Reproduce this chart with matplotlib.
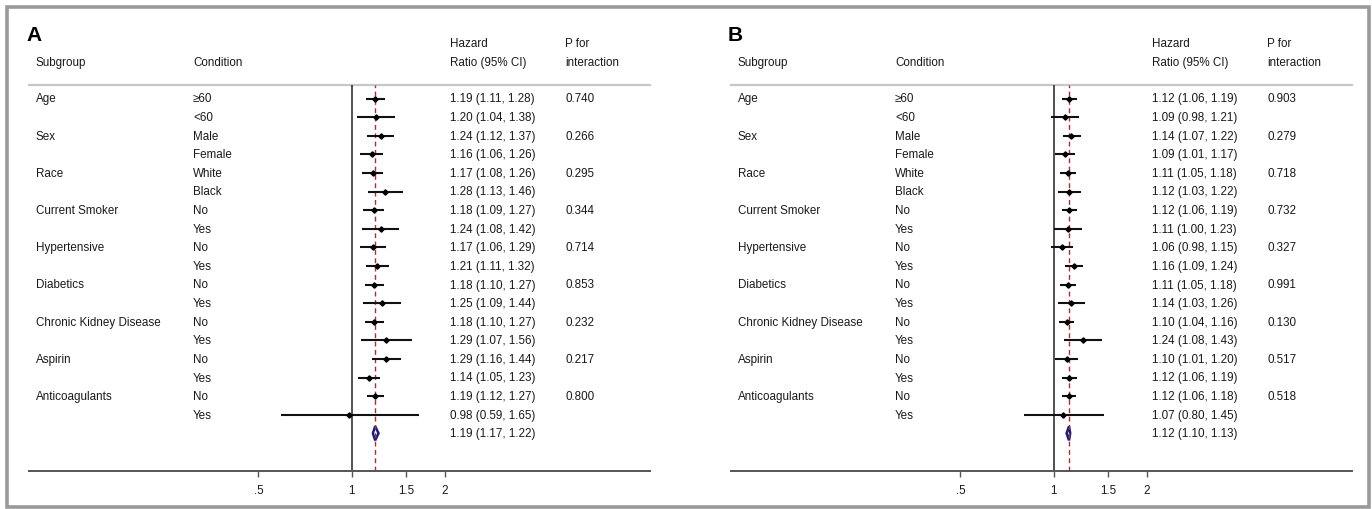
import matplotlib
matplotlib.use("Agg")
import matplotlib.pyplot as plt
from matplotlib.transforms import blended_transform_factory
from matplotlib.patches import Rectangle, Polygon

plt.rcParams['font.family'] = ['Liberation Sans', 'DejaVu Sans']

subgroups = ["Age", "", "Sex", "", "Race", "", "Current Smoker", "", "Hypertensive", "",
             "Diabetics", "", "Chronic Kidney Disease", "", "Aspirin", "", "Anticoagulants", ""]
conditions = ["≥60", "<60", "Male", "Female", "White", "Black", "No", "Yes", "No", "Yes",
              "No", "Yes", "No", "Yes", "No", "Yes", "No", "Yes"]

# Panel A
hr_a = [1.19, 1.20, 1.24, 1.16, 1.17, 1.28, 1.18, 1.24, 1.17, 1.21,
        1.18, 1.25, 1.18, 1.29, 1.29, 1.14, 1.19, 0.98]
lo_a = [1.11, 1.04, 1.12, 1.06, 1.08, 1.13, 1.09, 1.08, 1.06, 1.11,
        1.10, 1.09, 1.10, 1.07, 1.16, 1.05, 1.12, 0.59]
hi_a = [1.28, 1.38, 1.37, 1.26, 1.26, 1.46, 1.27, 1.42, 1.29, 1.32,
        1.27, 1.44, 1.27, 1.56, 1.44, 1.23, 1.27, 1.65]
p_a = ["0.740", "", "0.266", "", "0.295", "", "0.344", "", "0.714", "",
       "0.853", "", "0.232", "", "0.217", "", "0.800", ""]
overall_a = (1.19, 1.17, 1.22)

# Panel B
hr_b = [1.12, 1.09, 1.14, 1.09, 1.11, 1.12, 1.12, 1.11, 1.06, 1.16,
        1.11, 1.14, 1.10, 1.24, 1.10, 1.12, 1.12, 1.07]
lo_b = [1.06, 0.98, 1.07, 1.01, 1.05, 1.03, 1.06, 1.00, 0.98, 1.09,
        1.05, 1.03, 1.04, 1.08, 1.01, 1.06, 1.06, 0.80]
hi_b = [1.19, 1.21, 1.22, 1.17, 1.18, 1.22, 1.19, 1.23, 1.15, 1.24,
        1.18, 1.26, 1.16, 1.43, 1.20, 1.19, 1.18, 1.45]
p_b = ["0.903", "", "0.279", "", "0.718", "", "0.732", "", "0.327", "",
       "0.991", "", "0.130", "", "0.517", "", "0.518", ""]
overall_b = (1.12, 1.10, 1.13)

xticks = [0.5, 1, 1.5, 2]
xticklabels = [".5", "1", "1.5", "2"]

W, H = 1372, 510
fig = plt.figure(figsize=(W / 100, H / 100), dpi=100)

# outer frame
fig.patches.append(Rectangle((6.5 / W, 1 - 507.5 / H), 1362 / W, 499.5 / H,
                             transform=fig.transFigure, fill=False,
                             edgecolor="#9a9a9a", linewidth=2.6))

FS = 8.4
TXT = "#1a1a1a"


def panel(left_px, letter, hr, lo, hi, pv, overall):
    top_px, bot_px = 86, 472
    ax = fig.add_axes([left_px / W, 1 - bot_px / H, 621 / W, (bot_px - top_px) / H])
    ax.set_xscale("log")
    ax.set_xlim(0.0909, 9.17)
    row0, step = 99.5, 18.6
    ax.set_ylim((bot_px - row0) / step, (top_px - row0) / step)
    for s in ["top", "left", "right"]:
        ax.spines[s].set_visible(False)
    ax.spines["bottom"].set_color("#555555")
    ax.spines["bottom"].set_linewidth(1.4)
    ax.set_yticks([])
    ax.set_xticks(xticks)
    ax.set_xticklabels(xticklabels)
    ax.xaxis.set_minor_locator(matplotlib.ticker.NullLocator())
    ax.tick_params(axis="x", length=4.5, width=1.0, color="#555555", labelsize=FS,
                   labelcolor=TXT, pad=5)
    ax.patch.set_alpha(0)

    # header separator line
    ax.axhline((top_px - row0) / step, color="#c8c8c8", linewidth=1.6, clip_on=False)
    # reference line at 1
    ax.axvline(1, color="#222222", linewidth=1.1)
    # overall line
    ax.axvline(overall[0], color="#a0303a", linewidth=1.0, linestyle=(0, (3.5, 2.5)))

    rows = list(range(len(hr)))
    ax.hlines(rows, lo, hi, color="#111111", linewidth=1.5)
    ax.plot(hr, rows, linestyle="none", marker="D", markersize=2.7, color="#000000")

    # overall diamond
    yo = len(hr)
    est, l, h = overall
    dia = Polygon([(l, yo), (est, yo - 0.38), (h, yo), (est, yo + 0.38)],
                  closed=True, facecolor="white", edgecolor="#1c1f7a", linewidth=1.8)
    ax.add_patch(dia)

    tr = blended_transform_factory(ax.transAxes, ax.transData)
    fx = lambda px: (px - 29) / 621
    for i in rows:
        if subgroups[i]:
            ax.text(fx(36), i, subgroups[i], transform=tr, fontsize=FS, color=TXT, va="center")
        ax.text(fx(193), i, conditions[i], transform=tr, fontsize=FS, color=TXT, va="center")
        ax.text(fx(450), i, f"{hr[i]:.2f} ({lo[i]:.2f}, {hi[i]:.2f})", transform=tr,
                fontsize=FS, color=TXT, va="center")
        if pv[i]:
            ax.text(fx(565), i, pv[i], transform=tr, fontsize=FS, color=TXT, va="center")
    ax.text(fx(450), yo, f"{est:.2f} ({l:.2f}, {h:.2f})", transform=tr,
            fontsize=FS, color=TXT, va="center")

    yh1 = (44 - row0) / step
    yh2 = (62.7 - row0) / step
    ax.text(fx(36), yh2, "Subgroup", transform=tr, fontsize=FS, color=TXT, va="center", clip_on=False)
    ax.text(fx(193), yh2, "Condition", transform=tr, fontsize=FS, color=TXT, va="center", clip_on=False)
    ax.text(fx(450), yh1, "Hazard", transform=tr, fontsize=FS, color=TXT, va="center", clip_on=False)
    ax.text(fx(450), yh2, "Ratio (95% CI)", transform=tr, fontsize=FS, color=TXT, va="center", clip_on=False)
    ax.text(fx(565), yh1, "P for", transform=tr, fontsize=FS, color=TXT, va="center", clip_on=False)
    ax.text(fx(565), yh2, "interaction", transform=tr, fontsize=FS, color=TXT, va="center", clip_on=False)
    ax.text(fx(26), (35.5 - row0) / step, letter, transform=tr, fontsize=15,
            fontweight="bold", color="#000000", va="center", clip_on=False)
    return ax


panel(29, "A", hr_a, lo_a, hi_a, p_a, overall_a)
panel(731, "B", hr_b, lo_b, hi_b, p_b, overall_b)

fig.savefig("out.png", dpi=100, facecolor="white")
